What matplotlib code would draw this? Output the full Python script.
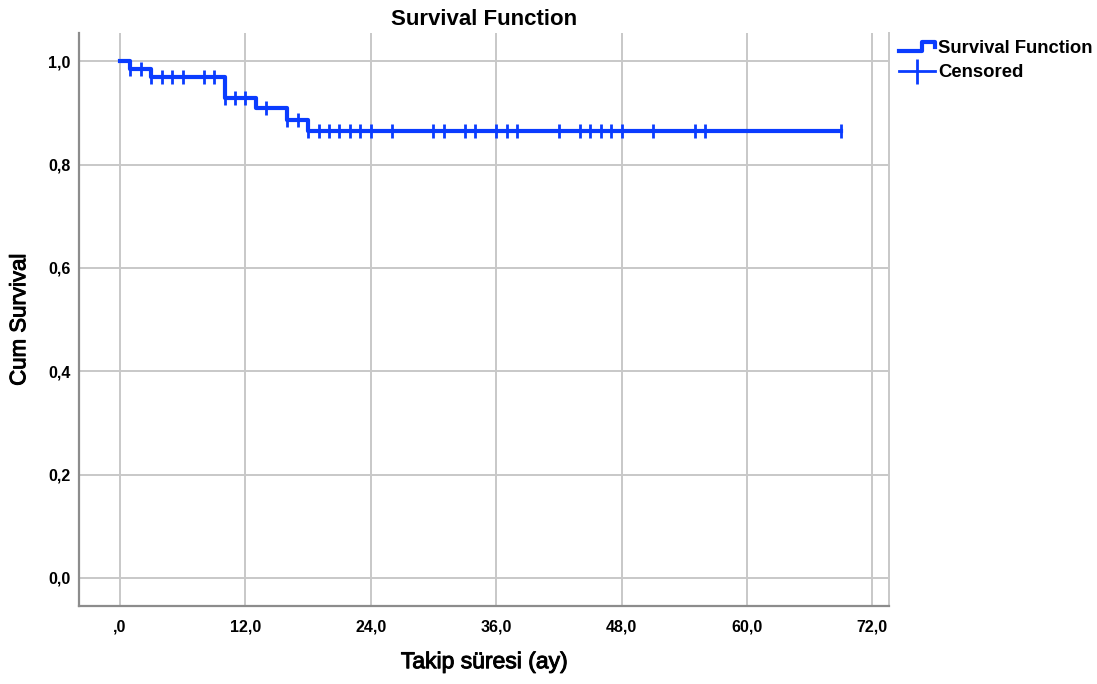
import numpy as np
import matplotlib
matplotlib.use('Agg')
import matplotlib.pyplot as plt
import matplotlib.patheffects as pe
from matplotlib.lines import Line2D
from matplotlib.legend_handler import HandlerBase

# Kaplan-Meier steps
event_times = [0, 1, 3, 10, 13, 16, 18]
survival = [1.0, 0.986, 0.969, 0.930, 0.910, 0.887, 0.865]

# censored follow-up times (months)
censored = [1, 2, 3, 4, 5, 6, 8, 9, 10, 11, 12, 14, 16, 17, 18, 19, 20, 21,
            22, 23, 24, 26, 30, 31, 33, 34, 36, 37, 38, 42, 44, 45, 46, 47,
            48, 51, 55, 56, 69]

x_ticks = [0, 12, 24, 36, 48, 60, 72]
y_ticks = [0.0, 0.2, 0.4, 0.6, 0.8, 1.0]

blue = '#0a3cff'
grid_col = '#c8c8c8'
plt.rcParams['font.family'] = ['Liberation Sans', 'DejaVu Sans']

fig = plt.figure(figsize=(10.97, 6.84), dpi=100)
ax = fig.add_axes([0.072, 0.114, 0.7384, 0.8374])

# survival curve
xs = event_times + [censored[-1]]
ys = survival + [survival[-1]]
ax.step(xs, ys, where='post', color=blue, lw=3, zorder=3)

# censor marks sit on the curve
idx = np.searchsorted(event_times, censored, side='right') - 1
cens_y = [survival[i] for i in idx]
ax.plot(censored, cens_y, ls='none', marker='|', ms=10, mew=2, color=blue, zorder=4)

ax.set_xlim(-3.93, 73.6)
ax.set_ylim(-0.0544, 1.0544)
ax.set_xticks(x_ticks)
ax.set_yticks(y_ticks)
ax.set_xticklabels([',0' if v == 0 else f'{v:.1f}'.replace('.', ',') for v in x_ticks],
                   fontweight='bold', fontsize=11.5)
ax.set_yticklabels([f'{v:.1f}'.replace('.', ',') for v in y_ticks],
                   fontweight='bold', fontsize=11.5)
ax.tick_params(axis='both', length=0)
ax.tick_params(axis='x', pad=10)
ax.tick_params(axis='y', pad=6)
ax.grid(True, color=grid_col, lw=1.4)
ax.set_axisbelow(True)

ax.spines['top'].set_visible(False)
ax.spines['right'].set_color(grid_col)
ax.spines['right'].set_linewidth(1.4)
for s in ['left', 'bottom']:
    ax.spines[s].set_color('#8c8c8c')
    ax.spines[s].set_linewidth(1.6)

heavy = [pe.withStroke(linewidth=0.7, foreground='black')]
ax.set_xlabel('Takip süresi (ay)', fontsize=16.5, labelpad=11, path_effects=heavy)
ax.set_ylabel('Cum Survival', fontsize=16, labelpad=13, path_effects=heavy)
ax.set_title('Survival Function', fontsize=16, fontweight='bold', pad=6)


class StepHandler(HandlerBase):
    def create_artists(self, legend, orig_handle, xdescent, ydescent,
                       width, height, fontsize, trans):
        x0, w = -xdescent, width
        y0, h = -ydescent, height
        xx = [x0, x0 + 0.65 * w, x0 + 0.65 * w, x0 + w, x0 + w]
        yy = [y0 + 0.15 * h, y0 + 0.15 * h, y0 + 0.85 * h, y0 + 0.85 * h, y0 + 0.45 * h]
        ln = Line2D(xx, yy, color=blue, lw=3, transform=trans)
        return [ln]


surv_handle = Line2D([], [], color=blue, lw=3)
cens_handle = Line2D([0], [0], color=blue, lw=2, marker='|', ms=18, mew=2)
leg = fig.legend([surv_handle, cens_handle], ['Survival Function', 'Censored'],
                 handler_map={surv_handle: StepHandler()},
                 loc='upper left', bbox_to_anchor=(0.8125, 0.953), frameon=False,
                 prop={'weight': 'bold', 'size': 13.3}, handlelength=1.95,
                 handletextpad=0.2, labelspacing=0.42, borderaxespad=0)

fig.savefig('out.png', dpi=100)
